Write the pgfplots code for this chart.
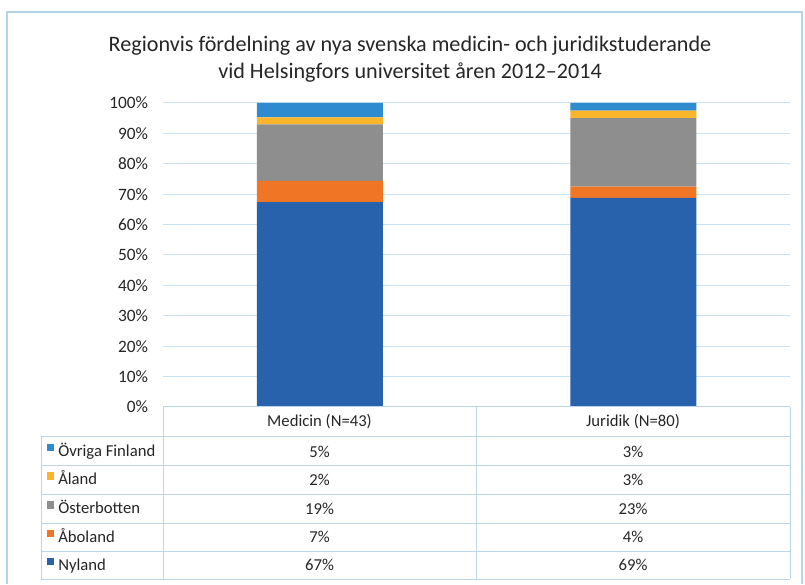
\documentclass[border=0pt]{standalone}
\usepackage{fontspec}
\setmainfont{Carlito}
\usepackage{pgfplots}
\pgfplotsset{compat=1.18}
\definecolor{cNy}{HTML}{2862AC}
\definecolor{cAb}{HTML}{F07525}
\definecolor{cOs}{HTML}{8E8E8E}
\definecolor{cAl}{HTML}{FBB52B}
\definecolor{cOv}{HTML}{2F8BCF}
\definecolor{gridc}{HTML}{C9E1F0}
\definecolor{tabc}{HTML}{BBD6E8}
\definecolor{framec}{HTML}{B4D4EA}
\definecolor{txt}{HTML}{262626}
\begin{document}
\begin{tikzpicture}
\begin{scope}[x=0.75pt,y=0.75pt]
\fill[white] (0,0) rectangle (805,584);
\draw[framec, line width=0.8pt] (7,0) -- (7,572) -- (802,572) -- (802,0);
\node[anchor=north, align=center, inner sep=0pt, text=txt, font=\fontsize{16.6}{20}\selectfont] at (410,548)
  {Regionvis fördelning av nya svenska medicin- och juridikstuderande\\vid Helsingfors universitet åren 2012–2014};
\end{scope}
\begin{axis}[at={(122.25pt,132.75pt)}, anchor=south west, scale only axis,
  width=470.25pt, height=228pt,
  ybar stacked, bar width=94.5pt,
  xmin=-0.5, xmax=1.5, ymin=0, ymax=100,
  xtick=\empty, ytick={0,10,...,100},
  yticklabel={\pgfmathprintnumber{\tick}\%},
  /pgf/number format/assume math mode=true,
  ymajorgrids, grid style={gridc, line width=0.75pt},
  axis line style={draw=none}, major tick length=0pt,
  yticklabel style={font=\fontsize{13}{15}\selectfont, text=txt, anchor=east, inner sep=0pt, xshift=-11pt},
  clip=false]
\addplot[fill=cNy, draw=none] coordinates {(0,67.4) (1,68.75)};
\addplot[fill=cAb, draw=none] coordinates {(0,7.0) (1,3.75)};
\addplot[fill=cOs, draw=none] coordinates {(0,18.6) (1,22.5)};
\addplot[fill=cAl, draw=none] coordinates {(0,2.3) (1,2.5)};
\addplot[fill=cOv, draw=none] coordinates {(0,4.7) (1,2.5)};
\end{axis}
\begin{scope}[x=0.75pt,y=0.75pt]
\draw[tabc, line width=0.75pt] (163,177) -- (790,177);
\foreach \yy in {147,118,90,61,33,5} \draw[tabc, line width=0.75pt] (41,\yy) -- (790,\yy);
\draw[tabc, line width=0.75pt] (41,147) -- (41,5);
\foreach \xx in {163,476,790} \draw[tabc, line width=0.75pt] (\xx,177) -- (\xx,5);
\tikzset{tt/.style={text=txt, font=\fontsize{12.5}{14}\selectfont, inner sep=0pt}}
\node[tt] at (319.5,162) {Medicin (N=43)};
\node[tt] at (633,162) {Juridik (N=80)};
\foreach \yy/\lab/\col/\va/\vb in {132.5/Övriga Finland/cOv/5/3, 104/Åland/cAl/2/3, 75.5/Österbotten/cOs/19/23, 47/Åboland/cAb/7/4, 19/Nyland/cNy/67/69} {
  \fill[\col] (46.5,\yy) rectangle (54,\yy+7.5);
  \node[tt, anchor=base west] at (58,\yy-5) {\lab};
  \node[tt] at (319.5,\yy) {\va\%};
  \node[tt] at (633,\yy) {\vb\%};
}
\end{scope}
\end{tikzpicture}
\end{document}
